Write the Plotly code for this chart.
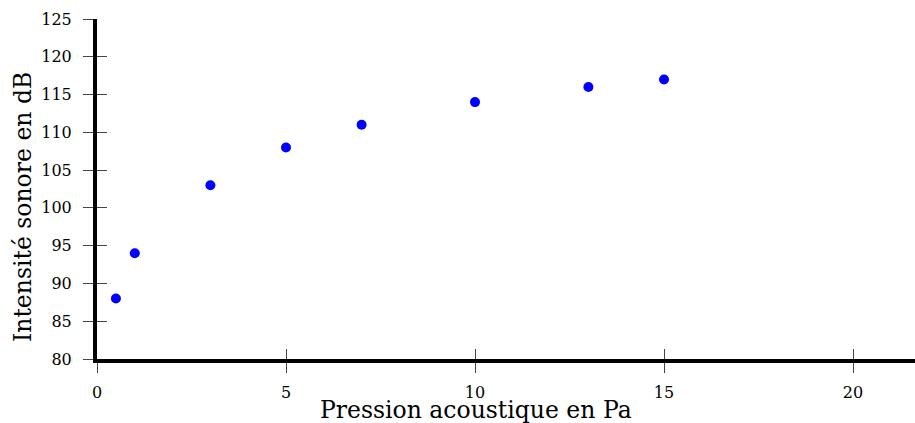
import plotly.graph_objects as go

pression = [0.5, 1, 3, 5, 7, 10, 13, 15]
intensite = [88, 94, 103, 108, 111, 114, 116, 117]
x_ticks = [0, 5, 10, 15, 20]
y_ticks = [80, 85, 90, 95, 100, 105, 110, 115, 120, 125]

FONT = "DejaVu Serif"

fig = go.Figure()
fig.add_trace(go.Scatter(x=pression, y=intensite, mode="markers",
                         marker=dict(color="#0000ff", size=10), showlegend=False))

xr = [0, 21.64]
yr = [80, 125]
common = dict(showgrid=False, zeroline=False, ticklen=10, tickwidth=1.2, tickcolor="#444")
fig.update_layout(
    width=915, height=423,
    margin=dict(l=97, r=0, t=19, b=64),
    plot_bgcolor="white", paper_bgcolor="white",
    font=dict(family=FONT, color="black", size=16),
    xaxis=dict(range=xr, tickvals=x_ticks, ticks="outside", showline=True,
               linecolor="black", linewidth=4, anchor="y", ticklabelstandoff=6, **common),
    yaxis=dict(range=yr, tickvals=y_ticks, ticks="outside", showline=True,
               linecolor="black", linewidth=4, anchor="x", ticklabelstandoff=8, **common),
    xaxis2=dict(range=xr, tickvals=x_ticks, ticks="inside", overlaying="x",
                anchor="y", side="bottom", showticklabels=False, showline=False, **common),
    yaxis2=dict(range=yr, tickvals=y_ticks, ticks="inside", overlaying="y",
                anchor="x", side="left", showticklabels=False, showline=False, **common),
)
fig.add_trace(go.Scatter(x=[], y=[], xaxis="x2", yaxis="y2", showlegend=False))

fig.add_annotation(text="Pression acoustique en Pa", xref="paper", yref="paper",
                   x=0.463, y=0, yshift=-51, showarrow=False,
                   font=dict(size=23.5, family=FONT), xanchor="center", yanchor="middle")
fig.add_annotation(text="Intensité sonore en dB", xref="paper", yref="paper",
                   x=0, xshift=-74, y=0.447, showarrow=False, textangle=-90,
                   font=dict(size=23.5, family=FONT), xanchor="center", yanchor="middle")

fig.write_html("out.html", config={"displayModeBar": False},
               post_script="document.body.style.margin='0';document.body.style.overflow='hidden';")
